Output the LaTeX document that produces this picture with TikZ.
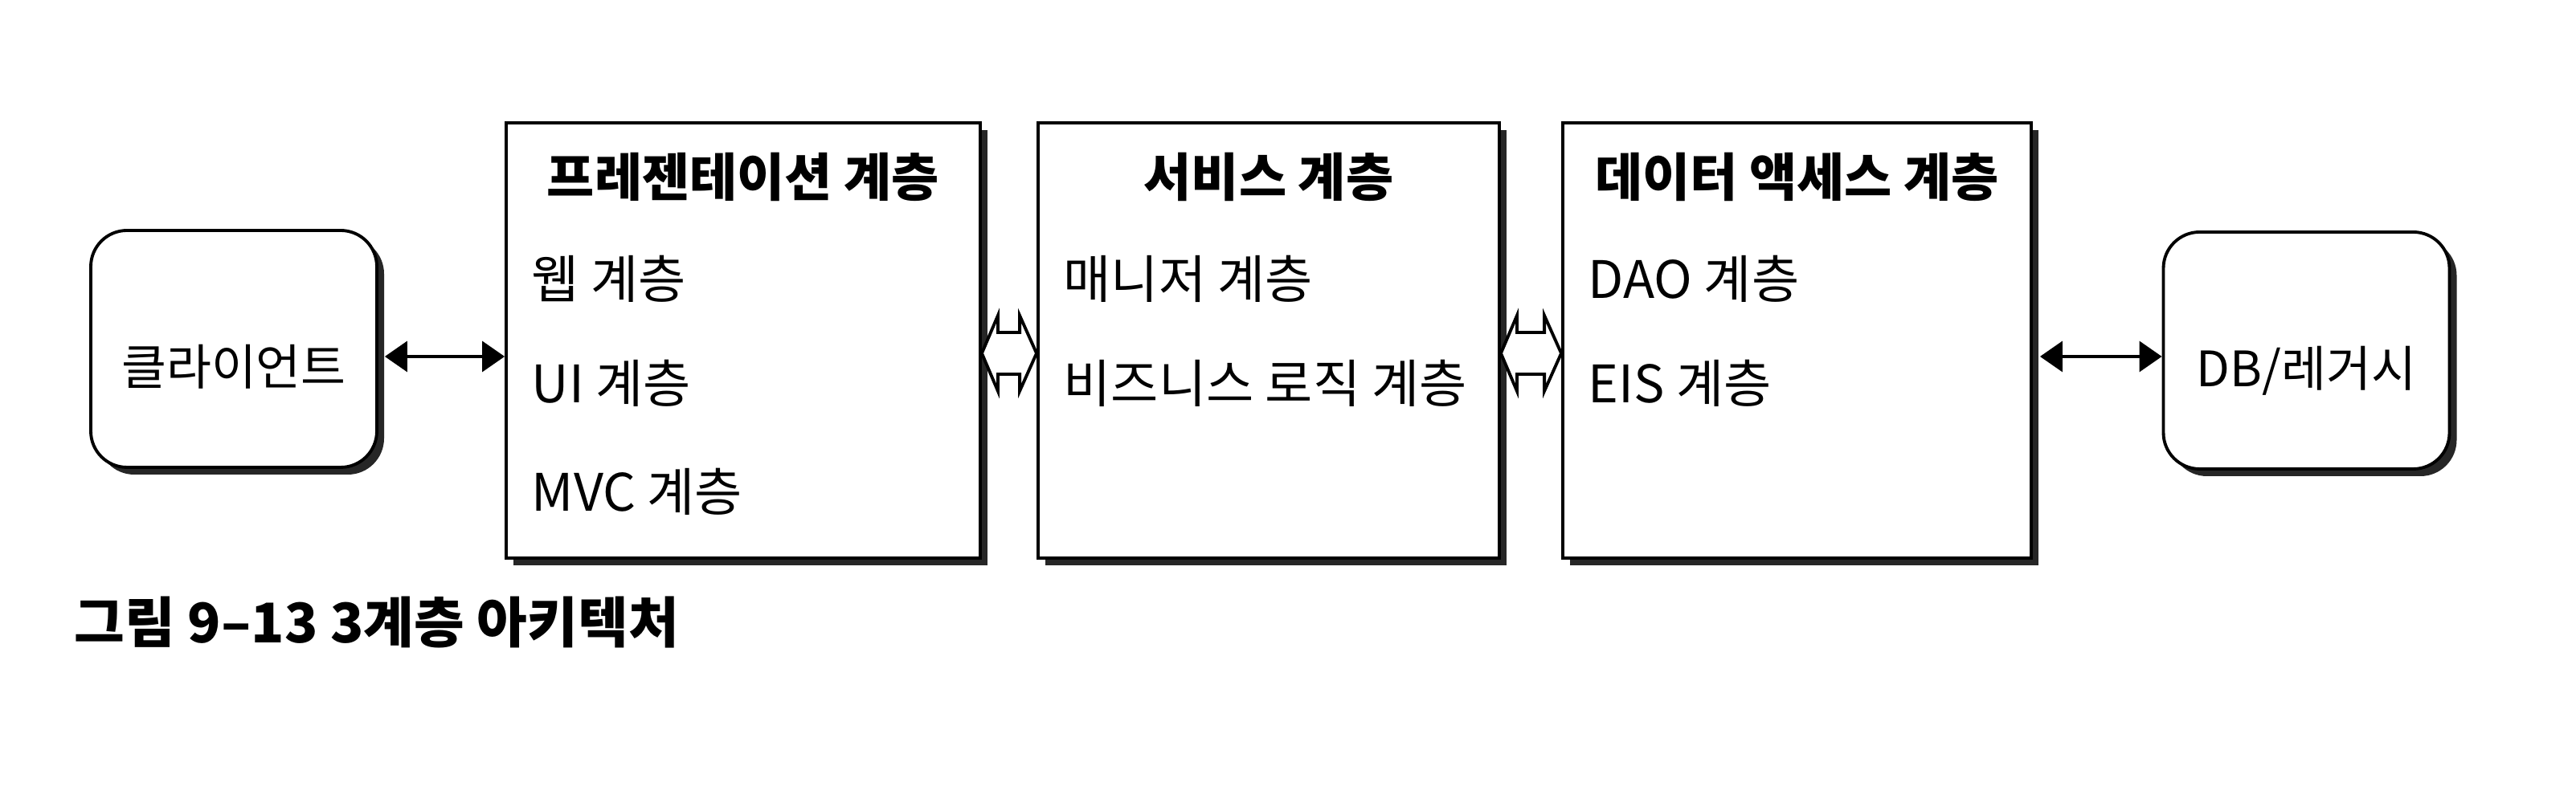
\documentclass[tikz,border=0pt]{standalone}
\usepackage{fontspec}
\setmainfont{Noto Sans CJK KR}
\usetikzlibrary{shadows,arrows.meta,calc}
\begin{document}
\begin{tikzpicture}[x=1cm,y=1cm,
  shadowed/.style={draw=black, line width=1.1pt, fill=white, inner sep=0pt,
    drop shadow={shadow xshift=0.09cm, shadow yshift=-0.09cm, opacity=1, fill=black!85}},
  layerbox/.style={shadowed, minimum height=5.42cm},
  endbox/.style={shadowed, rounded corners=0.45cm, minimum width=3.56cm, minimum height=2.95cm},
  endtext/.style={font=\fontsize{17.3pt}{20pt}\selectfont, inner sep=0pt},
  titletext/.style={font=\fontsize{18.3pt}{22pt}\selectfont\bfseries, inner sep=0pt},
  itemtext/.style={font=\fontsize{18.3pt}{22pt}\selectfont, inner sep=0pt, anchor=west},
  captext/.style={font=\fontsize{19.4pt}{23pt}\selectfont\bfseries, inner sep=0pt, anchor=west},
  thinarrow/.style={line width=1pt, {Triangle[length=0.28cm, width=0.38cm]}-{Triangle[length=0.28cm, width=0.38cm]}},
  hollowarrow/.style={draw=black, line width=1.1pt, fill=white, line join=miter}
]
\useasboundingbox (0,0) rectangle (32.06,10);
\fill[white] (0,0) rectangle (32.06,10);

% boxes
\node[endbox] (C) at (2.91,5.655) {};
\node[layerbox, minimum width=5.90cm] (P) at (9.25,5.76) {};
\node[layerbox, minimum width=5.74cm] (S) at (15.79,5.76) {};
\node[layerbox, minimum width=5.83cm] (D) at (22.365,5.76) {};
\node[endbox] (DB) at (28.705,5.635) {};

% end box labels
\node[endtext] (Ct) at ($(C.center)+(0,-0.22)$) {클라이언트};
\node[endtext] (DBt) at ($(DB.center)+(0,-0.25)$) {DB/레거시};

% titles
\node[titletext] (Pt) at ($(P.north)+(0,-0.69)$) {프레젠테이션 계층};
\node[titletext] (St) at ($(S.north)+(0,-0.69)$) {서비스 계층};
\node[titletext] (Dt) at ($(D.north)+(0,-0.69)$) {데이터 액세스 계층};

% items
\node[itemtext] (P1) at ($(P.north west)+(0.33,-1.96)$) {웹 계층};
\node[itemtext] (P2) at ($(P.north west)+(0.33,-3.26)$) {UI 계층};
\node[itemtext] (P3) at ($(P.north west)+(0.33,-4.61)$) {MVC 계층};
\node[itemtext] (S1) at ($(S.north west)+(0.33,-1.96)$) {매니저 계층};
\node[itemtext] (S2) at ($(S.north west)+(0.33,-3.26)$) {비즈니스 로직 계층};
\node[itemtext] (D1) at ($(D.north west)+(0.33,-1.96)$) {DAO 계층};
\node[itemtext] (D2) at ($(D.north west)+(0.33,-3.26)$) {EIS 계층};

% caption
\node[captext] (cap) at (0.92,2.25) {그림 9–13 3계층 아키텍처};

% thin double arrows
\coordinate (aY) at (0,5.56);
\draw[thinarrow] ($(C.east |- aY)+(0.08,0)$) -- (P.west |- aY);
\draw[thinarrow] ($(D.east |- aY)+(0.09,0)$) -- (DB.west |- aY);

% hollow double arrows
\coordinate (hY) at (0,5.60);
\coordinate (h1a) at (P.east |- hY);
\coordinate (h1b) at (S.west |- hY);
\coordinate (h2a) at (S.east |- hY);
\coordinate (h2b) at (D.west |- hY);
\draw[hollowarrow] (h1a) -- ($(h1a)+(0.2,0.47)$) -- ($(h1a)+(0.2,0.26)$) -- ($(h1b)+(-0.21,0.26)$) -- ($(h1b)+(-0.21,0.47)$) -- (h1b) -- ($(h1b)+(-0.21,-0.47)$) -- ($(h1b)+(-0.21,-0.26)$) -- ($(h1a)+(0.2,-0.26)$) -- ($(h1a)+(0.2,-0.47)$) -- cycle;
\draw[hollowarrow] (h2a) -- ($(h2a)+(0.2,0.47)$) -- ($(h2a)+(0.2,0.26)$) -- ($(h2b)+(-0.21,0.26)$) -- ($(h2b)+(-0.21,0.47)$) -- (h2b) -- ($(h2b)+(-0.21,-0.47)$) -- ($(h2b)+(-0.21,-0.26)$) -- ($(h2a)+(0.2,-0.26)$) -- ($(h2a)+(0.2,-0.47)$) -- cycle;
\end{tikzpicture}
\end{document}
